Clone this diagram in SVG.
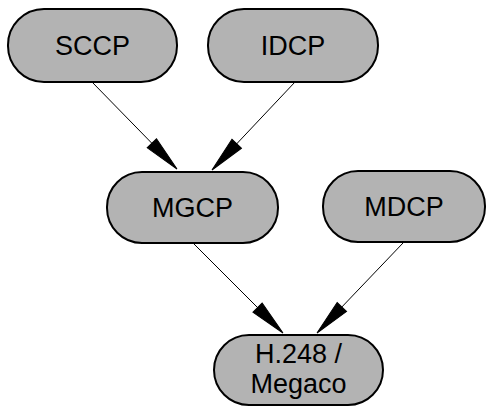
<svg xmlns="http://www.w3.org/2000/svg" width="486" height="406" viewBox="0 0 486 406">
<style>
.n{fill:#b3b3b3;stroke:#000;stroke-width:2}
.t{font-family:"Liberation Sans",Arial,sans-serif;font-size:27px;fill:#000;text-anchor:middle}
.e{stroke:#000;stroke-width:1;fill:none;marker-end:url(#ah)}
</style>
<defs>
<marker id="ah" markerUnits="userSpaceOnUse" markerWidth="40" markerHeight="18" viewBox="0 -9 38 18" refX="36" refY="0" orient="auto">
<path d="M0,-6.5 L36,0 L0,6.5 z" fill="#000" stroke="#000" stroke-width="1"/>
</marker>
</defs>
<rect width="486" height="406" fill="#fff"/>
<g id="connectors">
<line class="e" x1="92" y1="82" x2="177" y2="169"/>
<line class="e" x1="295" y1="82" x2="212" y2="170"/>
<line class="e" x1="193" y1="243" x2="283" y2="333"/>
<line class="e" x1="403" y1="243" x2="317" y2="333"/>
</g>
<g id="sccp"><rect class="n" x="8" y="9" width="169" height="73" rx="36"/><text class="t" x="92.5" y="55">SCCP</text></g>
<g id="idcp"><rect class="n" x="208" y="9" width="170" height="73" rx="36"/><text class="t" x="293" y="55">IDCP</text></g>
<g id="mgcp"><rect class="n" x="107" y="172" width="171" height="71" rx="35"/><text class="t" x="192.5" y="217">MGCP</text></g>
<g id="mdcp"><rect class="n" x="323" y="171" width="162" height="71" rx="35"/><text class="t" x="404" y="216">MDCP</text></g>
<g id="h248"><rect class="n" x="214" y="335" width="169" height="70" rx="35"/><text class="t" x="298.5" y="363">H.248 /</text><text class="t" x="298.5" y="393">Megaco</text></g>
</svg>
